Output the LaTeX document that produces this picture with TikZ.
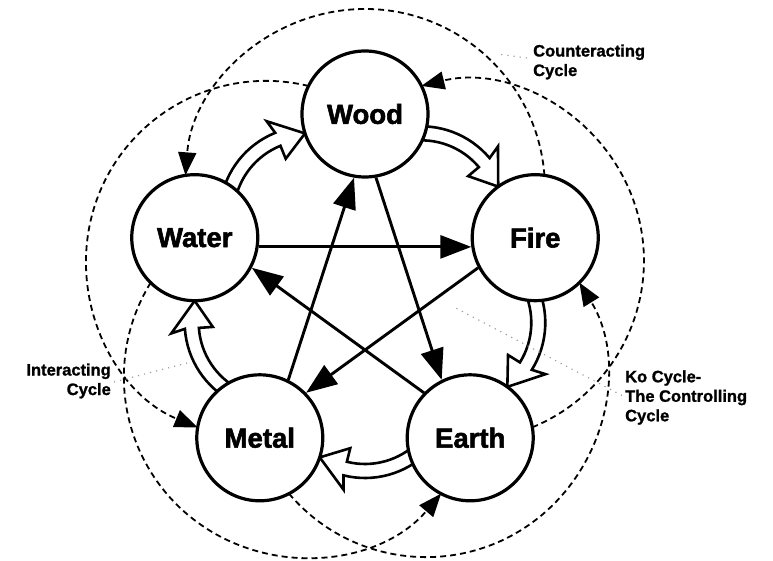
\documentclass[tikz,border=0pt]{standalone}
\usepackage{fontspec}
\setmainfont{Liberation Sans}
\newfontfamily\heavy[FakeBold=2]{Liberation Sans Bold}
\newfontfamily\lblfont[FakeBold=1.2]{Liberation Sans Bold}
\usetikzlibrary{arrows.meta,calc,backgrounds}
\begin{document}
\begin{tikzpicture}[x=1pt,y=1pt,
  elem/.style={circle, draw, line width=3.2pt, fill=white, minimum size=126pt,
    inner sep=0pt, outer sep=0pt, font=\heavy\fontsize{27.5}{30}\selectfont},
  kolink/.style={line width=2.9pt, -{Triangle[length=31pt,width=23pt]}},
  counterarc/.style={line width=1.8pt, dash pattern=on 6pt off 4pt,
    -{Triangle[length=23pt,width=18pt]}},
  hollow/.style={line width=2.6pt, draw=black, fill=white, line join=miter},
  pointer/.style={draw=black!40, line width=1.1pt, dash pattern=on 1.2pt off 5pt},
  lbl/.style={font=\lblfont\fontsize{16.5}{19.5}\selectfont, inner sep=0pt}
]
\useasboundingbox (-365,-268) rectangle (408,293);

% elements
\node[elem] (wood)  at (90:179)   {Wood};
\node[elem] (fire)  at (18:179)   {Fire};
\node[elem] (earth) at (-54:179)  {Earth};
\node[elem] (metal) at (-126:179) {Metal};
\node[elem] (water) at (162:179)  {Water};

% interacting (generating) cycle: hollow arrows
\begin{scope}[on background layer]
  \foreach \r in {-36,-108,-180,-252,-324} {
    \begin{scope}[rotate=\r, shift={(0,96)}]
      \path[hollow] (135:89) arc[start angle=135,end angle=76,radius=89]
        -- (78:103) -- (56.5:82) -- (76:61) -- (76:75)
        arc[start angle=76,end angle=135,radius=75] -- cycle;
    \end{scope}
  }
\end{scope}

% Ko cycle: controlling cycle (pentagram)
\foreach \a/\c/\t in {wood/earth/90, earth/water/-54, water/fire/162, fire/metal/18, metal/wood/-126} {
  \pgfmathsetmacro{\al}{\t-162}
  \draw[kolink] ($(\a)+({\al-8.2}:64.6)$) -- ($(\c)+({\al+188.2}:64.6)$);
}

% counteracting cycle: dashed arcs around the middle element
\foreach \a/\b in {fire/90, earth/18, metal/-54, water/-126, wood/162} {
  \draw[counterarc] ($(\a)+({\b-8.4}:63)$)
    arc[start angle={\b-85.66}, end angle={\b+85.66}, radius=180];
}

% labels
\node[lbl, anchor=west, align=left] (cclabel) at (168,231) {Counteracting\\Cycle};
\node[lbl, anchor=east, align=right] (iclabel) at (-254,-88) {Interacting\\Cycle};
\node[lbl, anchor=west, align=left] (kolabel) at (260,-104.5) {Ko Cycle-\\The Controlling\\Cycle};

\coordinate (ccend) at (132,239);
\coordinate (icend) at (-178,-70);
\coordinate (koend) at (87,-13);
\draw[pointer] ([shift={(-6,4)}]cclabel.west) -- (ccend);
\draw[pointer] ([shift={(3,-1)}]iclabel.east) -- (icend);
\draw[pointer] ([shift={(-3,2)}]kolabel.west) -- (koend);
\end{tikzpicture}
\end{document}
